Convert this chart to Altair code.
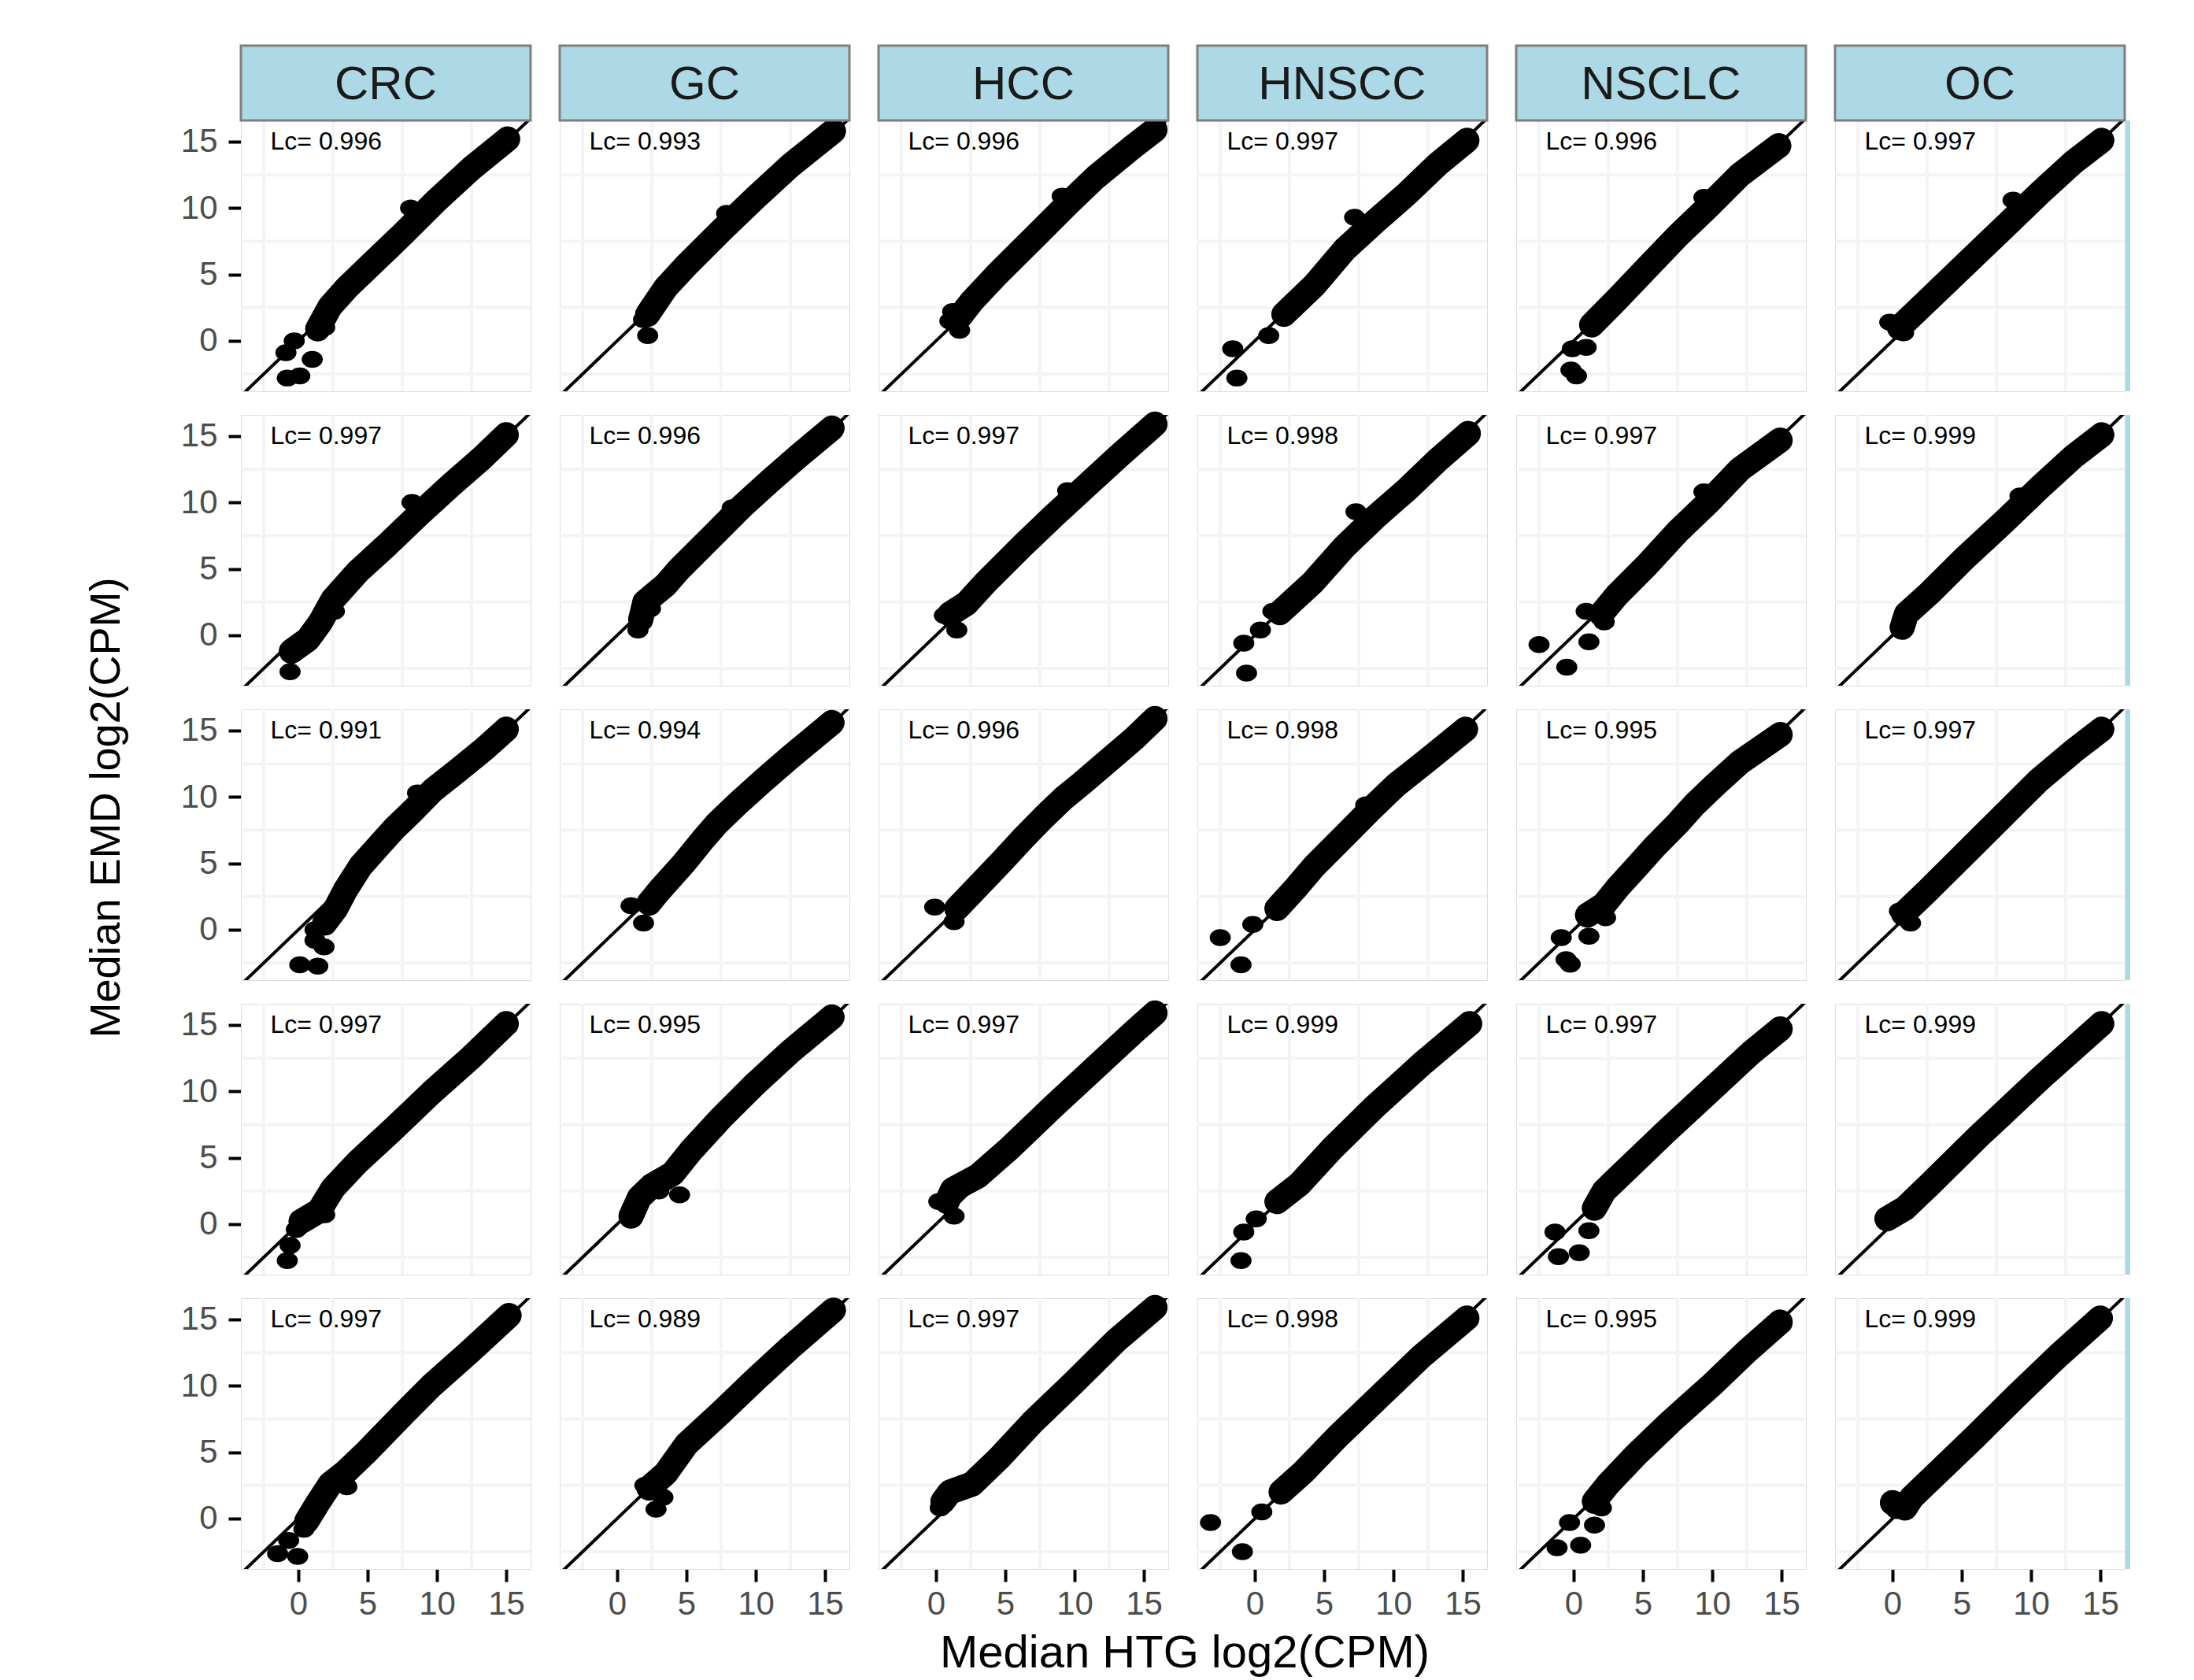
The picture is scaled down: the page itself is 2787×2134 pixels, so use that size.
import altair as alt
import pandas as pd

columns = ["CRC", "GC", "HCC", "HNSCC", "NSCLC", "OC"]

lc_r1 = [0.996, 0.993, 0.996, 0.997, 0.996, 0.997]
lc_r2 = [0.997, 0.996, 0.997, 0.998, 0.997, 0.999]
lc_r3 = [0.991, 0.994, 0.996, 0.998, 0.995, 0.997]
lc_r4 = [0.997, 0.995, 0.997, 0.999, 0.997, 0.999]
lc_r5 = [0.997, 0.989, 0.997, 0.998, 0.995, 0.999]

# dense gene cloud, read as nodes along its centre (x = HTG, y = EMD)
band_r1 = [
    [(1.4, 0.9), (2.3, 2.6), (3.5, 4.0), (5, 5.5), (7.5, 8.0), (10, 10.6), (12.5, 13.0), (15.1, 15.2)],
    [(2.2, 2.0), (3.5, 4.0), (5, 5.7), (7.5, 8.3), (10, 10.8), (12.5, 13.2), (15.6, 15.8)],
    [(1.7, 1.8), (2.6, 3.0), (4.4, 5.0), (7, 7.7), (9.5, 10.3), (11.5, 12.3), (14.2, 14.6), (15.8, 15.9)],
    [(2.1, 2.0), (4.3, 4.2), (6.5, 6.9), (8.7, 9.0), (11, 11.1), (13.2, 13.3), (15.3, 15.1)],
    [(1.3, 1.2), (3.1, 3.1), (5.3, 5.5), (7.5, 7.9), (9.8, 10.2), (12, 12.5), (14.8, 14.7)],
    [(0.5, 1.0), (2.7, 3.2), (5.3, 5.8), (8, 8.5), (10.7, 11.2), (13, 13.4), (15.1, 15.1)],
]
outl_r1 = [
    [(-0.8, -2.8), (0.1, -2.65), (1.0, -1.4), (-0.3, 0.0), (-0.9, -0.9), (8.1, 10.0), (1.9, 1.0)],
    [(2.2, 0.4), (1.9, 1.6), (7.9, 9.6), (2.6, 2.9)],
    [(1.7, 0.8), (1.0, 1.5), (1.2, 2.2), (9.1, 10.9)],
    [(-1.3, -2.8), (-1.6, -0.6), (1.0, 0.4), (7.2, 9.3)],
    [(-0.2, -2.2), (0.2, -2.65), (-0.1, -0.6), (0.9, -0.5), (9.4, 10.8)],
    [(-0.2, 1.4), (0.8, 0.6), (8.7, 10.6)],
]

band_r2 = [
    [(-0.5, -1.2), (0.7, -0.3), (1.6, 1.0), (2.5, 2.7), (4.3, 4.8), (6.5, 6.9), (8.7, 9.1), (11, 11.3), (13.2, 13.3), (15, 15.1)],
    [(1.7, 1.2), (2.0, 2.5), (3.5, 3.8), (4.5, 5.0), (7, 7.6), (9, 9.7), (11, 11.6), (13.2, 13.6), (15.5, 15.6)],
    [(1.0, 1.6), (2.2, 2.4), (3.6, 4.0), (6.2, 6.7), (8.5, 9.0), (11, 11.4), (13.3, 13.6), (15.8, 15.9)],
    [(1.8, 1.7), (4.2, 4.0), (6.5, 6.7), (8.7, 8.9), (11, 11.0), (13.2, 13.2), (15.4, 15.2)],
    [(2.0, 1.6), (3.1, 3.0), (5.3, 5.3), (7.5, 7.8), (9.8, 10.1), (12, 12.5), (14.9, 14.7)],
    [(0.7, 0.6), (1.0, 1.6), (2.7, 3.2), (5.3, 5.9), (8, 8.5), (10.7, 11.2), (13, 13.4), (15.1, 15.1)],
]
outl_r2 = [
    [(-0.6, -2.75), (8.2, 10.0), (1.0, 0.4), (2.6, 1.8)],
    [(1.5, 0.4), (8.3, 9.6), (2.4, 2.0)],
    [(1.5, 0.4), (0.6, 1.5), (9.5, 10.9)],
    [(-0.6, -2.85), (-0.8, -0.6), (0.4, 0.4), (1.3, 1.8), (7.3, 9.3)],
    [(-2.5, -0.7), (-0.5, -2.4), (1.1, -0.5), (0.9, 1.8), (2.2, 1.0), (9.4, 10.8)],
    [(9.2, 10.5)],
]

band_r3 = [
    [(1.9, 0.5), (2.7, 1.6), (3.4, 3.0), (4.5, 4.8), (5.7, 6.2), (7, 7.7), (8.3, 9.0), (9.7, 10.5), (11.4, 11.9), (13.4, 13.6), (15, 15.1)],
    [(2.3, 2.0), (3.0, 2.9), (4.8, 5.0), (6.2, 6.8), (7.2, 8.0), (8.8, 9.6), (10.5, 11.2), (12.5, 13.0), (15.5, 15.6)],
    [(1.5, 1.6), (2.6, 2.8), (4.8, 5.2), (6.3, 6.9), (7.8, 8.5), (9.2, 9.9), (10.5, 11.0), (12.4, 12.7), (14.3, 14.4), (15.8, 15.9)],
    [(1.6, 1.6), (3.0, 3.2), (4.3, 4.8), (6.5, 7.1), (8.3, 9.0), (10.2, 10.9), (12.5, 12.8), (15.2, 15.1)],
    [(1.0, 1.1), (2.2, 1.9), (3.2, 3.2), (4.6, 4.8), (5.8, 6.2), (7.5, 8.0), (8.7, 9.4), (10.2, 10.9), (12, 12.6), (14.9, 14.7)],
    [(0.8, 1.2), (2.5, 2.9), (5.3, 5.8), (8, 8.6), (10.5, 11.2), (13, 13.4), (15.1, 15.1)],
]
outl_r3 = [
    [(0.1, -2.65), (1.4, -2.75), (1.85, -1.3), (1.2, -0.8), (1.2, 0.0), (8.6, 10.3)],
    [(1.0, 1.8), (1.9, 0.5)],
    [(-0.1, 1.7), (1.3, 0.6)],
    [(-2.5, -0.6), (-1.0, -2.65), (-0.15, 0.4), (8.0, 9.4)],
    [(-0.9, -0.6), (1.1, -0.5), (-0.55, -2.25), (-0.25, -2.6), (2.3, 0.9)],
    [(0.5, 1.4), (1.3, 0.5)],
]

band_r4 = [
    [(0.2, 0.2), (1.5, 1.0), (2.5, 2.7), (4.3, 4.7), (7, 7.3), (9.6, 9.9), (12.3, 12.4), (15, 15.1)],
    [(1.0, 0.6), (1.6, 2.0), (2.5, 2.9), (4.0, 3.8), (5.3, 5.5), (7.5, 8.0), (10, 10.6), (12.5, 13.0), (15.5, 15.6)],
    [(0.8, 1.7), (1.2, 2.6), (3.0, 3.6), (5.3, 5.7), (8.4, 8.8), (11.5, 11.8), (14.2, 14.4), (15.8, 15.9)],
    [(1.6, 1.7), (3.2, 3.0), (5.5, 5.6), (8.6, 8.8), (12.2, 12.2), (15.5, 15.1)],
    [(1.5, 1.2), (2.2, 2.5), (4, 4.3), (6.6, 6.9), (9.7, 9.9), (12.8, 12.9), (14.9, 14.7)],
    [(-0.4, 0.4), (0.9, 1.2), (2.7, 3.0), (6.2, 6.6), (10.7, 11.0), (15.1, 15.1)],
]
outl_r4 = [
    [(-0.8, -2.75), (-0.6, -1.6), (-0.15, -0.4), (1.9, 0.7)],
    [(4.5, 2.2), (3.0, 2.5)],
    [(1.3, 0.6), (0.2, 1.7)],
    [(-1.0, -2.75), (-0.8, -0.6), (0.1, 0.4)],
    [(-1.35, -0.6), (-1.1, -2.45), (0.4, -2.15), (1.1, -0.5)],
    [],
]

band_r5 = [
    [(0.6, -0.2), (1.3, 1.0), (2.3, 2.6), (3.4, 3.5), (4.8, 4.9), (7.6, 7.9), (9.6, 10.0), (12.4, 12.6), (15.2, 15.3)],
    [(2.3, 2.3), (3.5, 3.4), (5, 5.6), (7.5, 8.0), (10, 10.5), (12.5, 12.9), (15.6, 15.7)],
    [(0.5, 1.3), (1.0, 2.0), (2.6, 2.6), (4.5, 4.5), (7, 7.3), (10, 10.3), (13, 13.4), (15.8, 15.9)],
    [(1.9, 2.0), (3.5, 3.5), (6, 6.2), (9, 9.2), (12, 12.2), (15.3, 15.1)],
    [(1.5, 1.3), (2.5, 2.6), (4.5, 4.8), (7, 7.3), (10, 10.1), (12.5, 12.6), (14.9, 14.8)],
    [(0.0, 1.2), (0.9, 0.8), (1.4, 1.6), (3, 3.2), (6, 6.2), (9, 9.3), (12, 12.3), (15, 15.1)],
]
outl_r5 = [
    [(-1.5, -2.65), (-0.05, -2.85), (-0.7, -1.65), (0.4, -0.8), (3.5, 2.4), (1.0, 0.5)],
    [(2.0, 2.5), (2.8, 0.7), (3.3, 1.6)],
    [(0.3, 0.8), (0.8, 1.5)],
    [(-3.2, -0.3), (-0.9, -2.5), (0.5, 0.5)],
    [(-1.2, -2.2), (0.5, -2.0), (-0.3, -0.3), (1.5, -0.5), (2.0, 0.8)],
    [(0.3, 0.6)],
]

tick_vals = [0, 5, 10, 15]
grid_vals = [-2.5, 2.5, 7.5, 12.5]
diag_vals = [-5, 18]          # identity line y = x
x_domain = [-4.15, 16.76]
y_domain = [-3.8, 16.6]
label_pos = (2, 15)

# ---------------------------------------------------------------- table
rows = [
    (lc_r1, band_r1, outl_r1), (lc_r2, band_r2, outl_r2), (lc_r3, band_r3, outl_r3),
    (lc_r4, band_r4, outl_r4), (lc_r5, band_r5, outl_r5),
]
recs = []
for r, (lcs, bands, outs) in enumerate(rows, start=1):
    for c, col in enumerate(columns):
        recs.append(dict(kind="panel", row=r, col=col, x=label_pos[0], y=label_pos[1],
                         idx=0, label=f"Lc= {lcs[c]:.3f}"))
        for i, (x, y) in enumerate(bands[c]):
            recs.append(dict(kind="band", row=r, col=col, x=x, y=y, idx=i, label=""))
        for x, y in outs[c]:
            recs.append(dict(kind="out", row=r, col=col, x=x, y=y, idx=0, label=""))
        for g in grid_vals:
            recs.append(dict(kind="grid", row=r, col=col, x=g, y=g, idx=0, label=""))
        for i, d in enumerate(diag_vals):
            recs.append(dict(kind="diag", row=r, col=col, x=d, y=d, idx=i, label=""))
df = pd.DataFrame(recs)

W, H = 368, 344
STRIP = 95
FONT = "Liberation Sans"
ellipse = "M-1,0A1,0.8,0,1,1,1,0A1,0.8,0,1,1,-1,0Z"

xscale = alt.Scale(domain=x_domain, nice=False, zero=False)
yscale = alt.Scale(domain=y_domain, nice=False, zero=False)
xaxis = alt.Axis(values=tick_vals, title=None, grid=False, domain=False, ticks=True,
                 tickColor="black", tickWidth=4, tickSize=16, labelColor="#4D4D4D",
                 labelFontSize=42, labelFont=FONT, labelPadding=8)
yaxis = alt.Axis(values=tick_vals, title=None, grid=False, domain=False, ticks=True,
                 tickColor="black", tickWidth=4, tickSize=16, labelColor="#4D4D4D",
                 labelFontSize=42, labelFont=FONT, labelPadding=14)
X = alt.X("x:Q", scale=xscale, axis=xaxis)
Y = alt.Y("y:Q", scale=yscale, axis=yaxis)

grid_x = alt.Chart().mark_rule(color="#F4F4F4", strokeWidth=4).encode(x=X).transform_filter(
    alt.datum.kind == "grid")
grid_y = alt.Chart().mark_rule(color="#F4F4F4", strokeWidth=4).encode(y=Y).transform_filter(
    alt.datum.kind == "grid")
band_line = alt.Chart().mark_line(color="black", strokeWidth=32, strokeCap="round",
                                  strokeJoin="round").encode(
    x=X, y=Y, order=alt.Order("idx:Q")).transform_filter(alt.datum.kind == "band")
band_pts = alt.Chart().mark_point(shape=ellipse, filled=True, size=1000, color="black",
                                  opacity=1).encode(x=X, y=Y).transform_filter(
    alt.datum.kind == "band")
out_pts = alt.Chart().mark_point(shape=ellipse, filled=True, size=720, color="black",
                                 opacity=1).encode(x=X, y=Y).transform_filter(
    alt.datum.kind == "out")
diag = alt.Chart().mark_line(color="black", strokeWidth=4, clip=True).encode(
    x=X, y=Y, order=alt.Order("idx:Q")).transform_filter(alt.datum.kind == "diag")
lc_text = alt.Chart().mark_text(font=FONT, fontSize=32, color="black", align="center",
                                baseline="middle").encode(
    x=X, y=Y, text="label:N").transform_filter(alt.datum.kind == "panel")
strip_rect = alt.Chart().mark_rect(fill="#ADD8E6", stroke="#7F7F7F", strokeWidth=3).encode(
    x=alt.value(0), x2=alt.value(W), y=alt.value(-STRIP), y2=alt.value(0)).transform_filter(
    (alt.datum.kind == "panel") & (alt.datum.row == 1))
strip_text = alt.Chart().mark_text(font=FONT, fontSize=60, color="#1A1A1A", align="center",
                                   baseline="middle").encode(
    x=alt.value(W / 2), y=alt.value(-STRIP / 2 + 2), text="col:N").transform_filter(
    (alt.datum.kind == "panel") & (alt.datum.row == 1))
side_rect = alt.Chart().mark_rect(fill="#ADD8E6").encode(
    x=alt.value(W + 1), x2=alt.value(W + 7), y=alt.value(0), y2=alt.value(H)).transform_filter(
    (alt.datum.kind == "panel") & (alt.datum.col == "OC"))

panel = alt.layer(grid_x, grid_y, diag, band_line, band_pts, out_pts, lc_text,
                  strip_rect, strip_text, side_rect).properties(width=W, height=H)

chart = panel.facet(
    row=alt.Row("row:O", header=alt.Header(labels=False, title="Median EMD log2(CPM)",
                                           titleFontSize=54, titleFont=FONT,
                                           titleFontWeight="normal", titleColor="black",
                                           titlePadding=56)),
    column=alt.Column("col:N", sort=columns,
                      header=alt.Header(labels=False, title="Median HTG log2(CPM)",
                                        titleOrient="bottom", titleFontSize=58,
                                        titleFont=FONT, titleFontWeight="normal",
                                        titleColor="black", titlePadding=4)),
    data=df,
    spacing={"row": 30, "column": 37},
    align="each",
    bounds="flush",
).properties(
    padding={"left": 100, "top": 48, "right": 10, "bottom": 2}
).configure_view(
    stroke="#7F7F7F", strokeWidth=3
).configure(background="white")

chart.save("out.html", embed_options={"renderer": "svg", "actions": False})
